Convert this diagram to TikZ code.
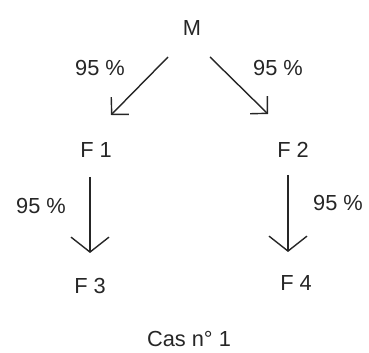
\documentclass[tikz,border=0pt]{standalone}
\usepackage{fontspec}
\setmainfont{Liberation Sans}
\usetikzlibrary{arrows.meta, positioning}

\begin{document}
\begin{tikzpicture}[
    x=0.025cm, y=-0.025cm,
    lbl/.style={inner sep=0pt, font=\fontsize{15.5}{18}\selectfont, text=black!85},
    arrow/.style={-{Straight Barb[length=0.3cm, width=0.62cm]}, line width=1pt, black!85},
    longarrow/.style={-{Straight Barb[length=0.375cm, width=0.95cm]}, line width=1pt, black!85}
]
\useasboundingbox (0,0) rectangle (369,353);

\node[lbl] (m) at (192,28) {M};
\node[lbl] (f1) at (96,150) {F 1};
\node[lbl] (f2) at (293,150) {F 2};
\node[lbl] (f3) at (90,286) {F 3};
\node[lbl] (f4) at (296,283) {F 4};
\node[lbl] (cas) at (189,339) {Cas n° 1};

\node[lbl] (p1) at (100,68) {95 \%};
\node[lbl] (p2) at (278,68) {95 \%};
\node[lbl] (p3) at (41,206) {95 \%};
\node[lbl] (p4) at (338,203) {95 \%};

% arrow ends
\coordinate (m1) at (168,57);
\coordinate (f1top) at (111,115);
\coordinate (m2) at (210,57);
\coordinate (f2top) at (268,114);
\coordinate (f1bot) at (90,177);
\coordinate (f3top) at (90,253);
\coordinate (f2bot) at (288,175);
\coordinate (f4top) at (288,252);

\draw[arrow] (m1) -- (f1top);
\draw[arrow] (m2) -- (f2top);
\draw[longarrow] (f1bot) -- (f3top);
\draw[longarrow] (f2bot) -- (f4top);

\end{tikzpicture}
\end{document}
